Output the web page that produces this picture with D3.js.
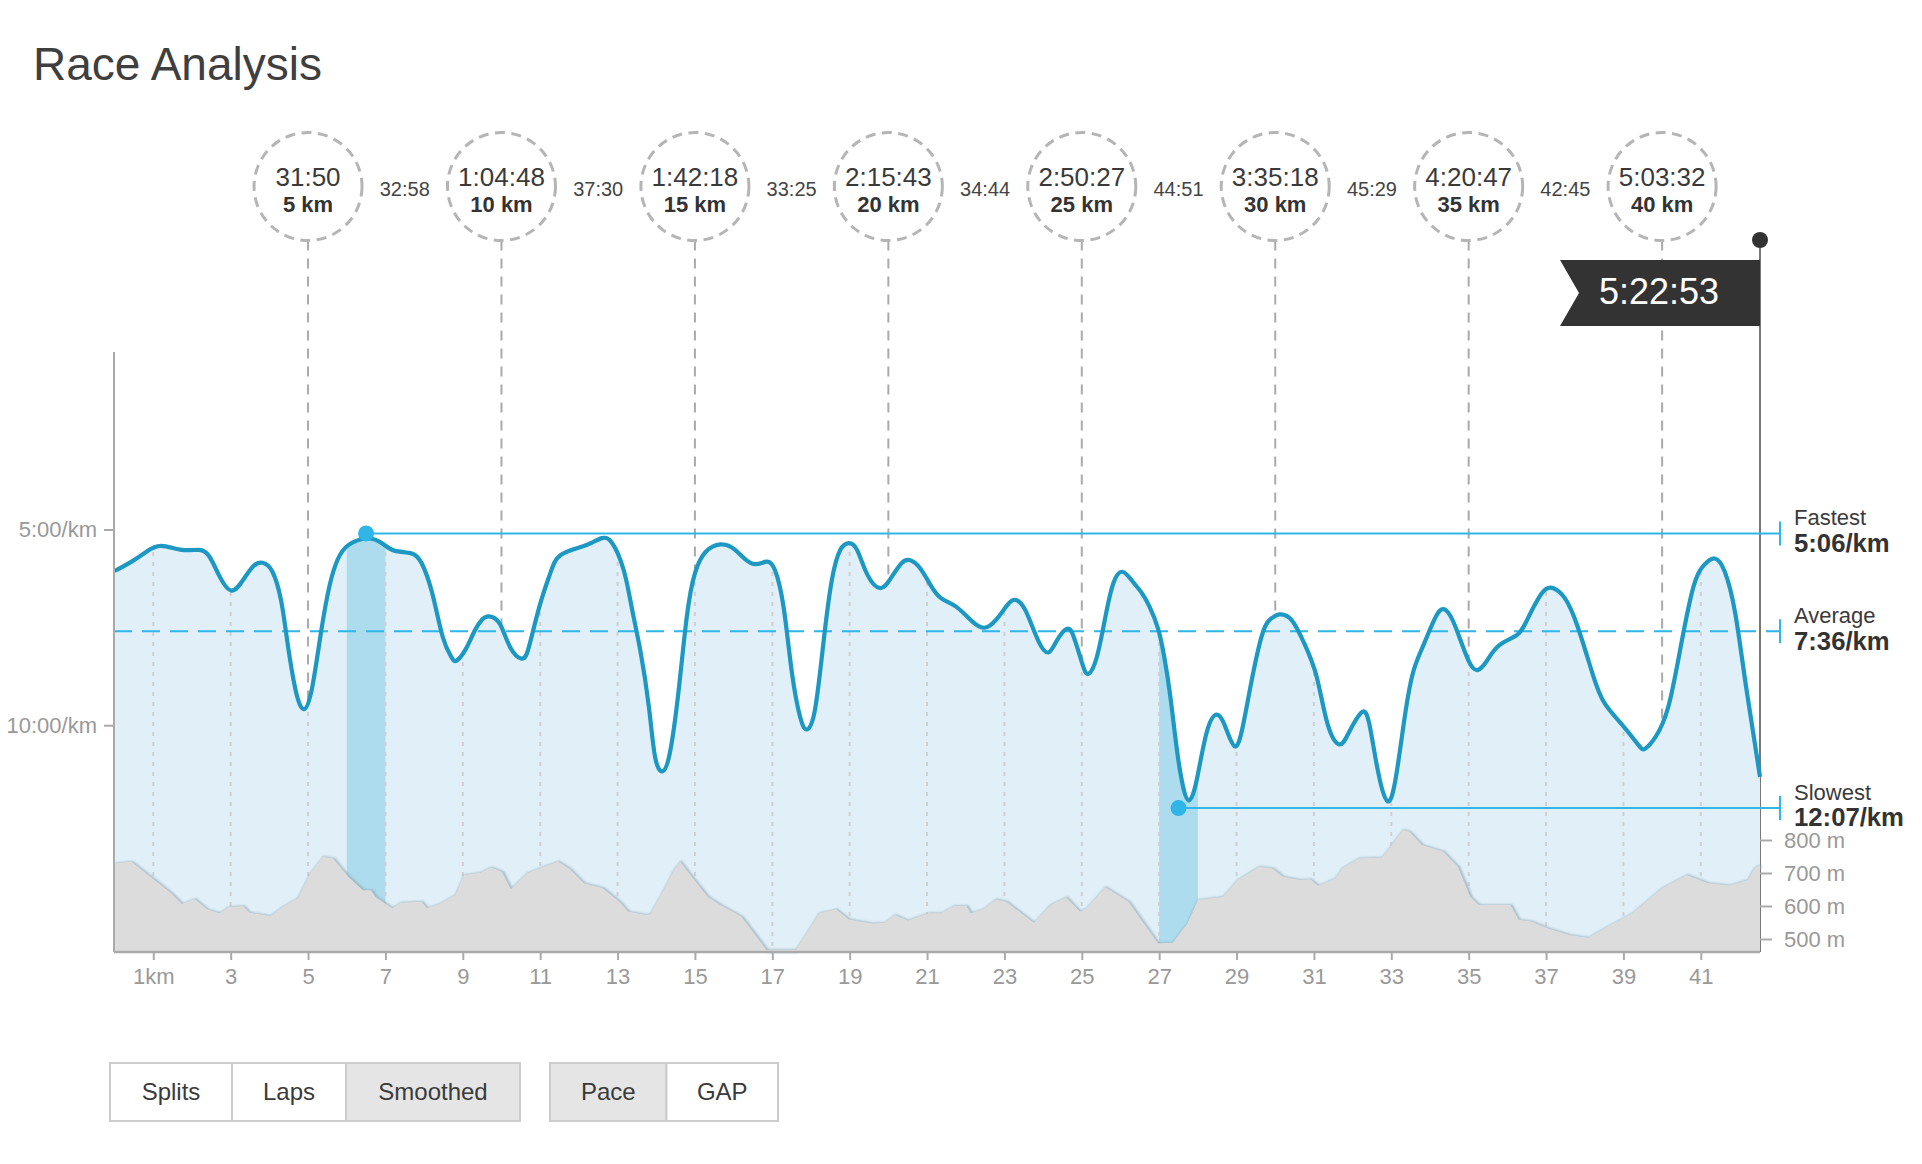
<!DOCTYPE html>
<html><head><meta charset="utf-8">
<script src="https://cdn.jsdelivr.net/npm/d3@7"></script>
<style>
html,body{margin:0;padding:0;background:#fff}
svg{display:block}
text{font-family:"Liberation Sans",Arial,sans-serif}
</style></head><body>
<svg id="c" width="1922" height="1164"></svg>
<script>
const title = "Race Analysis";
const paceKm = [0,.44,.82,1.2,1.74,2.18,2.45,2.72,3.02,3.32,3.59,3.83,4.08,4.3,4.46,4.68,4.9,5.11,5.33,5.55,5.76,6.04,6.53,6.91,7.23,7.67,7.94,8.21,8.48,8.7,8.84,9.08,9.3,9.5,9.68,9.95,10.22,10.52,10.71,10.98,11.26,11.53,12.07,12.35,12.6,12.85,13.16,13.38,13.59,13.81,13.97,14.16,14.35,14.57,14.79,15,15.28,15.66,16.04,16.47,16.85,17.07,17.29,17.51,17.72,17.89,18.1,18.32,18.54,18.76,18.97,19.19,19.46,19.79,20.06,20.33,20.55,20.82,21.09,21.37,21.75,22.18,22.49,22.78,23.11,23.3,23.54,23.87,24.14,24.36,24.61,24.79,25.01,25.17,25.39,25.61,25.82,26.05,26.3,26.55,26.75,26.97,27.13,27.29,27.46,27.62,27.76,27.95,28.22,28.49,28.71,28.95,29.16,29.41,29.69,29.9,30.1,30.42,30.75,31.07,31.35,31.65,31.89,32.22,32.43,32.65,32.9,33.12,33.36,33.58,33.85,34.17,34.41,34.66,34.99,35.24,35.48,35.8,36.24,36.51,36.89,37.19,37.49,37.82,38.2,38.52,39.01,39.39,39.56,39.83,40.16,40.48,40.81,41.08,41.36,41.62,41.89,42.17,42.53];
const paceMin = [6.06,5.82,5.57,5.42,5.52,5.52,5.69,6.21,6.56,6.29,5.93,5.85,6.08,6.8,7.83,9.11,9.59,9.02,7.66,6.46,5.78,5.4,5.23,5.35,5.54,5.61,5.87,6.63,7.74,8.25,8.35,8.05,7.6,7.3,7.22,7.4,8,8.3,8,6.97,6.12,5.65,5.44,5.33,5.22,5.33,6.04,7.06,8.1,9.53,10.81,11.18,10.72,9.19,7.23,6.12,5.57,5.38,5.52,5.87,5.82,6.04,6.97,8.68,9.79,10.11,9.62,7.91,6.29,5.52,5.35,5.52,6.16,6.5,6.25,5.87,5.78,5.99,6.42,6.76,6.97,7.36,7.51,7.31,6.89,6.8,7.06,7.83,8.14,7.83,7.54,7.74,8.42,8.69,8.25,7.23,6.36,6.08,6.31,6.62,6.97,7.53,8.25,9.28,10.64,11.58,11.92,11.49,10.21,9.73,10.04,10.54,10.04,8.76,7.6,7.27,7.17,7.31,7.91,8.76,9.96,10.49,10.21,9.68,9.96,11.15,11.94,11.32,9.7,8.59,7.91,7.19,7.06,7.49,8.34,8.59,8.34,7.95,7.7,7.31,6.63,6.5,6.76,7.49,8.68,9.45,10.04,10.51,10.6,10.3,9.53,8,6.46,5.91,5.74,6.08,7.14,9.02,11.32];
const elevKm = [0,.44,.76,1.14,1.47,1.74,2.07,2.39,2.72,2.94,3.32,3.48,4.02,4.35,4.73,5.06,5.38,5.65,6.04,6.42,6.63,6.74,7.01,7.18,7.39,7.94,8.07,8.43,8.81,9.03,9.46,9.73,10.01,10.24,10.66,11.09,11.47,11.75,12.13,12.62,13.05,13.27,13.76,13.86,14.24,14.46,14.62,14.95,15.33,15.66,16.2,16.53,16.85,17.61,17.94,18.21,18.65,18.97,19.57,19.9,20.17,20.5,21.04,21.37,21.69,22.02,22.13,22.45,22.78,23.05,23.76,24.19,24.6,24.95,25.12,25.61,26.21,26.59,26.97,27.35,27.73,28,28.65,29.03,29.58,29.93,30.2,30.64,30.91,31.11,31.56,31.73,32.16,32.76,32.98,33.3,33.47,33.79,34.34,34.72,35.04,35.26,36.08,36.29,36.62,37.06,37.6,38.09,38.58,39.23,39.99,40.64,41.19,41.73,42.22,42.38,42.53];
const elevM = [729,734,704,669,638,606,621,590,578,596,600,580,570,598,623,699,749,744,689,648,648,628,606,593,610,613,593,608,633,694,701,717,704,651,699,719,734,714,669,654,613,583,573,578,658,709,734,684,628,603,568,517,467,467,527,578,590,560,547,549,573,556,578,578,600,600,578,590,620,613,549,603,626,583,593,657,613,549,487,489,547,618,628,679,719,714,689,679,681,661,684,714,744,747,780,830,825,785,765,719,628,603,603,558,553,532,512,504,537,578,654,694,669,662,679,714,724];
const checkKm = [5,10,15,20,25,30,35,40];
const checkTimes = ["31:50","1:04:48","1:42:18","2:15:43","2:50:27","3:35:18","4:20:47","5:03:32"];
const checkLabels = ["5 km","10 km","15 km","20 km","25 km","30 km","35 km","40 km"];
const splitTimes = ["32:58","37:30","33:25","34:44","44:51","45:29","42:45"];
const oddKm = [1,3,5,7,9,11,13,15,17,19,21,23,25,27,29,31,33,35,37,39,41];
const highlightKm = [[6,7],[27,28]];
const fastest = {km:6.5, pace:5.1, name:"Fastest", label:"5:06/km"};
const average = {pace:7.6, name:"Average", label:"7:36/km"};
const slowest = {km:27.5, pace:12.117, name:"Slowest", label:"12:07/km"};
const paceTicks = [5,10];
const elevTicks = [500,600,700,800];
const finishTime = "5:22:53";
const btnGroups = [["Splits","Laps","Smoothed"],["Pace","GAP"]];
const btnActive = ["Smoothed","Pace"];

const svg = d3.select("#c");
const x = d3.scaleLinear().domain([0,42.53]).range([114.6,1760]);
const yP = d3.scaleLinear().domain([5,10]).range([529.5,725.2]);
const yE = d3.scaleLinear().domain([500,800]).range([939,840]);
const baseY = 952, topY = 352;
const pace = paceKm.map((k,i)=>[k,paceMin[i]]);
const elev = elevKm.map((k,i)=>[k,elevM[i]]);
const lineP = d3.line().x(d=>x(d[0])).y(d=>yP(d[1])).curve(d3.curveNatural);
const areaP = d3.area().x(d=>x(d[0])).y0(baseY).y1(d=>yP(d[1])).curve(d3.curveNatural);
const areaE = d3.area().x(d=>x(d[0])).y0(baseY).y1(d=>Math.min(baseY,yE(d[1])));
const lineE = d3.line().x(d=>x(d[0])).y(d=>Math.min(baseY,yE(d[1])));
const BLUE="#2fb5e8";

svg.append("text").attr("x",33).attr("y",80).attr("font-size",46).attr("fill","#3f3f3f").text(title);

// checkpoint drop lines
const r=54, cy=186.5;
svg.append("g").selectAll("line").data(checkKm).join("line")
  .attr("x1",d=>x(d)).attr("x2",d=>x(d)).attr("y1",cy+r).attr("y2",baseY)
  .attr("stroke","#aaa").attr("stroke-width",2).attr("stroke-dasharray","10 8");
const cg = svg.append("g").selectAll("g").data(checkKm).join("g").attr("transform",d=>`translate(${x(d)},${cy})`);
cg.append("circle").attr("r",r).attr("fill","#fff").attr("stroke","#b5b5b5").attr("stroke-width",3).attr("stroke-dasharray","10 6.5");
cg.append("text").attr("text-anchor","middle").attr("y",-10).attr("dy",".36em").attr("font-size",26).attr("fill","#3a3a3a").text((d,i)=>checkTimes[i]);
cg.append("text").attr("text-anchor","middle").attr("y",18).attr("dy",".36em").attr("font-size",22).attr("font-weight",700).attr("fill","#333").text((d,i)=>checkLabels[i]);
svg.append("g").selectAll("text").data(splitTimes).join("text")
  .attr("x",(d,i)=>x(checkKm[i]+2.5)).attr("y",189).attr("dy",".36em").attr("text-anchor","middle").attr("font-size",20).attr("fill","#444").text(d=>d);

// flag pole
svg.append("line").attr("x1",x(42.53)).attr("x2",x(42.53)).attr("y1",240).attr("y2",baseY).attr("stroke","#777").attr("stroke-width",2);

// pace area
const defs=svg.append("defs");
defs.append("clipPath").attr("id","ac").append("path").attr("d",areaP(pace));
defs.append("filter").attr("id","soft").append("feGaussianBlur").attr("stdDeviation",1);
svg.append("path").attr("d",areaP(pace)).attr("fill","#e1f0f8");
const inArea=svg.append("g").attr("clip-path","url(#ac)");
inArea.selectAll("rect").data(highlightKm).join("rect")
  .attr("x",d=>x(d[0])).attr("width",d=>x(d[1])-x(d[0])).attr("y",topY).attr("height",baseY-topY).attr("fill","#acdcee");
inArea.selectAll("line").data(oddKm).join("line")
  .attr("x1",d=>x(d)).attr("x2",d=>x(d)).attr("y1",topY).attr("y2",baseY)
  .attr("stroke","#cfcfcf").attr("stroke-width",2).attr("stroke-dasharray","4 6");

// elevation
svg.append("path").attr("d",lineE(elev)).attr("fill","none").attr("stroke","#8fa8b5").attr("stroke-opacity",.7).attr("stroke-width",3.5).attr("transform","translate(1,1)").attr("filter","url(#soft)");
svg.append("path").attr("d",areaE(elev)).attr("fill","#dcdcdc");

// reference lines
svg.append("line").attr("x1",x(fastest.km)).attr("x2",1780).attr("y1",yP(fastest.pace)).attr("y2",yP(fastest.pace)).attr("stroke",BLUE).attr("stroke-width",2);
svg.append("line").attr("x1",114).attr("x2",1780).attr("y1",yP(average.pace)).attr("y2",yP(average.pace)).attr("stroke",BLUE).attr("stroke-width",2.2).attr("stroke-dasharray","18 10");
svg.append("line").attr("x1",x(slowest.km)).attr("x2",1780).attr("y1",yP(slowest.pace)).attr("y2",yP(slowest.pace)).attr("stroke",BLUE).attr("stroke-width",2);

// pace line
svg.append("path").attr("d",lineP(pace)).attr("fill","none").attr("stroke","#1c98c3").attr("stroke-width",4.2);

svg.selectAll("circle.dot").data([fastest,slowest]).join("circle").attr("class","dot")
  .attr("cx",d=>x(d.km)).attr("cy",d=>yP(d.pace)).attr("r",8).attr("fill",BLUE);

const refs=[fastest,average,slowest];
const rg=svg.append("g").selectAll("g").data(refs).join("g").attr("transform",d=>`translate(0,${yP(d.pace)})`);
rg.append("line").attr("x1",1780).attr("x2",1780).attr("y1",-12).attr("y2",12).attr("stroke",BLUE).attr("stroke-width",2);
rg.append("text").attr("x",1794).attr("y",-16).attr("dy",".36em").attr("font-size",22).attr("fill","#3a3a3a").text(d=>d.name);
rg.append("text").attr("x",1794).attr("y",9).attr("dy",".36em").attr("font-size",25.7).attr("font-weight",700).attr("fill","#333").text(d=>d.label);

// axes
function style(g){
  g.selectAll("text").attr("fill","#999").attr("font-size",22).attr("font-family",'"Liberation Sans",Arial,sans-serif');
  g.selectAll(".tick line").attr("stroke","#aaa").attr("stroke-width",2);
}
const ax=svg.append("g").attr("transform",`translate(0,${baseY})`)
  .call(d3.axisBottom(x).tickValues(oddKm).tickSize(8).tickPadding(8).tickFormat(d=>d===1?"1km":String(d)));
ax.select(".domain").attr("stroke","#aaa").attr("stroke-width",2.5).attr("d",`M114,0H1760`);
style(ax);
const ay=svg.append("g").attr("transform","translate(114,0)")
  .call(d3.axisLeft(yP).tickValues(paceTicks).tickSize(10).tickPadding(7).tickFormat(d=>d+":00/km"));
ay.select(".domain").attr("stroke","#aaa").attr("stroke-width",2).attr("d",`M0,${topY}V${baseY}`);
style(ay);
const ar=svg.append("g").attr("transform","translate(1760,0)")
  .call(d3.axisRight(yE).tickValues(elevTicks).tickSize(12).tickPadding(12).tickFormat(d=>d+" m"));
ar.select(".domain").remove();
style(ar);

// flag on top
svg.append("circle").attr("cx",x(42.53)).attr("cy",240).attr("r",8).attr("fill","#333");
const fx=x(42.53);
svg.append("path").attr("d",d3.line()([[fx,260],[fx-200,260],[fx-181,293],[fx-200,326],[fx,326]])+"Z").attr("fill","#333");
svg.append("text").attr("x",fx-101).attr("y",291).attr("dy",".36em").attr("text-anchor","middle").attr("font-size",36).attr("fill","#fff").text(finishTime);

// buttons
const groupEdges=[[110,232,346,520],[550,666.5,778]];
btnGroups.forEach((labels,gi)=>{
  const e=groupEdges[gi];
  const g=svg.append("g");
  labels.forEach((t,i)=>{
    g.append("rect").attr("x",e[i]).attr("y",1063).attr("width",e[i+1]-e[i]).attr("height",58)
      .attr("fill",btnActive.includes(t)?"#e5e5e5":"#fff").attr("stroke","#ccc").attr("stroke-width",2);
    g.append("text").attr("x",(e[i]+e[i+1])/2).attr("y",1091).attr("dy",".36em").attr("text-anchor","middle")
      .attr("font-size",24).attr("fill","#3a3a3a").text(t);
  });
});
</script></body></html>
